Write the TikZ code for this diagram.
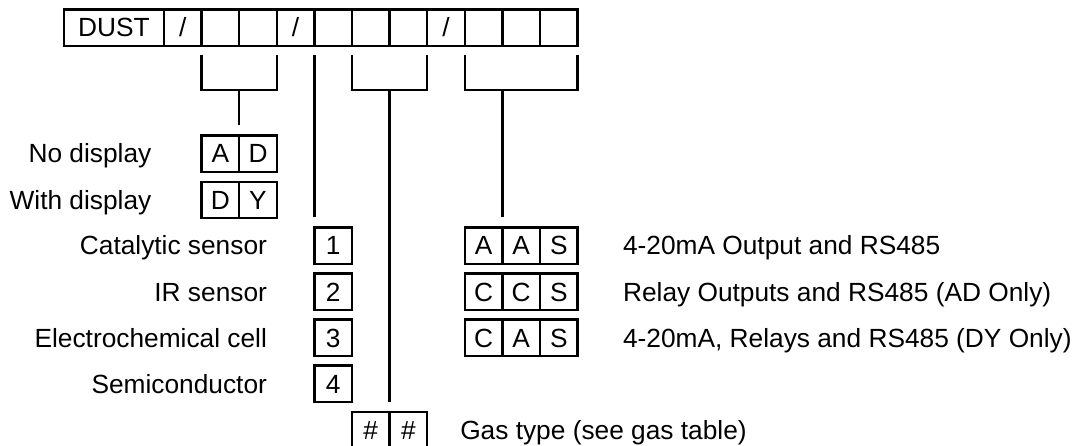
\documentclass[tikz,border=0pt]{standalone}
\usepackage{fontspec}
\setmainfont{Liberation Sans}
\usetikzlibrary{positioning}

\begin{document}
\begin{tikzpicture}[
      cell/.style={draw, line width=1.6pt, minimum width=0.94cm, minimum height=0.91cm,
                   inner sep=0pt, outer sep=0pt, text height=0.47cm, text depth=0pt,
                   font=\fontsize{18.7}{22}\selectfont},
      lbl/.style={inner sep=0pt, text height=0.47cm, text depth=0pt,
                  font=\fontsize{18.7}{22}\selectfont},
      link/.style={line width=1.6pt}
    ]
      \useasboundingbox (0,0) rectangle (27.05,-11.15);

      % code row
      \node[cell, minimum width=2.5cm] (dust) at (2.85,-0.69) {DUST};
      \node[cell] (sl1) at (4.57,-0.69) {/};
      \node[cell] (c1) at (5.51,-0.69) {};
      \node[cell] (c2) at (6.45,-0.69) {};
      \node[cell] (sl2) at (7.39,-0.69) {/};
      \node[cell] (c3) at (8.33,-0.69) {};
      \node[cell] (c4) at (9.27,-0.69) {};
      \node[cell] (c5) at (10.21,-0.69) {};
      \node[cell] (sl3) at (11.15,-0.69) {/};
      \node[cell] (c6) at (12.09,-0.69) {};
      \node[cell] (c7) at (13.03,-0.69) {};
      \node[cell] (c8) at (13.97,-0.69) {};

      % display options
      \node[cell] (ad1) at (5.51,-3.84) {A};
      \node[cell] (ad2) at (6.45,-3.84) {D};
      \node[cell] (dy1) at (5.51,-5.0) {D};
      \node[cell] (dy2) at (6.45,-5.0) {Y};
      \node[lbl, left=1.25cm of ad1] (lad) {No display};
      \node[lbl, left=1.25cm of dy1] (ldy) {With display};

      % sensor types
      \node[cell] (n1) at (8.33,-6.14) {1};
      \node[cell] (n2) at (8.33,-7.29) {2};
      \node[cell] (n3) at (8.33,-8.44) {3};
      \node[cell] (n4) at (8.33,-9.59) {4};
      \node[lbl, left=1.18cm of n1] (ln1) {Catalytic sensor};
      \node[lbl, left=1.18cm of n2] (ln2) {IR sensor};
      \node[lbl, left=1.18cm of n3] (ln3) {Electrochemical cell};
      \node[lbl, left=1.18cm of n4] (ln4) {Semiconductor};

      % gas type
      \node[cell] (g1) at (9.27,-10.75) {\#};
      \node[cell] (g2) at (10.21,-10.75) {\#};
      \node[lbl, right=0.82cm of g2] (lgas) {Gas type (see gas table)};

      % outputs
      \node[cell] (aas1) at (12.09,-6.14) {A};
      \node[cell] (aas2) at (13.03,-6.14) {A};
      \node[cell] (aas3) at (13.97,-6.14) {S};
      \node[cell] (ccs1) at (12.09,-7.29) {C};
      \node[cell] (ccs2) at (13.03,-7.29) {C};
      \node[cell] (ccs3) at (13.97,-7.29) {S};
      \node[cell] (cas1) at (12.09,-8.44) {C};
      \node[cell] (cas2) at (13.03,-8.44) {A};
      \node[cell] (cas3) at (13.97,-8.44) {S};
      \node[lbl, right=1.13cm of aas3] (laas) {4-20mA Output and RS485};
      \node[lbl, right=1.13cm of ccs3] (lccs) {Relay Outputs and RS485 (AD Only)};
      \node[lbl, right=1.13cm of cas3] (lcas) {4-20mA, Relays and RS485 (DY Only)};

      % brackets
      \coordinate (b1) at (5.98,-2.25);
      \coordinate (b2) at (9.74,-2.25);
      \coordinate (b3) at (12.56,-2.25);
      \draw[link] ([yshift=-0.225cm]c1.south west) |- (b1) -| ([yshift=-0.225cm]c2.south east);
      \draw[link] ([yshift=-0.225cm]c4.south west) |- (b2) -| ([yshift=-0.225cm]c5.south east);
      \draw[link] ([yshift=-0.225cm]c6.south west) |- (b3) -| ([yshift=-0.225cm]c8.south east);
      \draw[link] (b1) -- ([yshift=0.25cm]ad1.north east);
      \draw[link] ([yshift=-0.225cm]c3.south west) -- ([yshift=0.25cm]n1.north west);
      \draw[link] (b2) -- ([yshift=0.25cm]g1.north east);
      \draw[link] (b3) -- ([yshift=0.25cm]aas1.north east);
    \end{tikzpicture}
\end{document}
